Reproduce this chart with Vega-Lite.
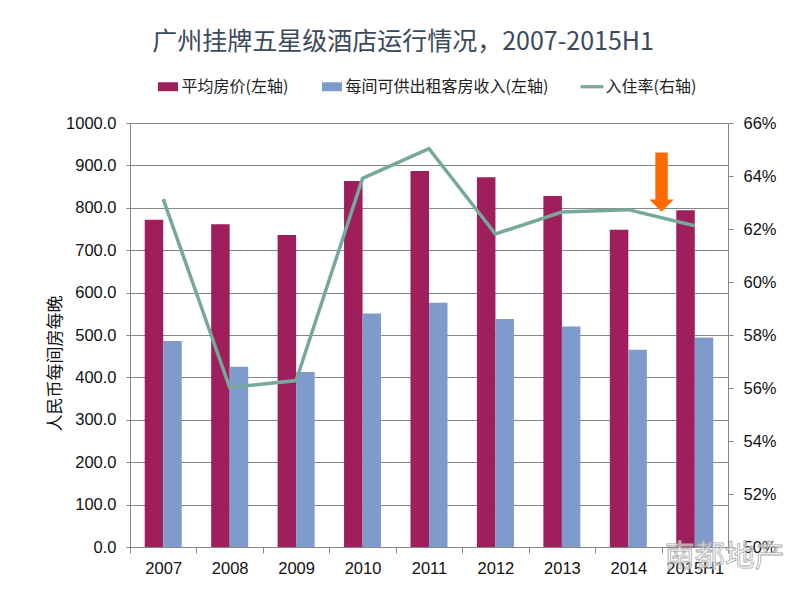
{
  "$schema": "https://vega.github.io/schema/vega-lite/v6.json",
  "description": "广州挂牌五星级酒店运行情况，2007-2015H1",
  "width": 598,
  "height": 424,
  "autosize": {"type": "none"},
  "padding": {"left": 130, "top": 123, "right": 67, "bottom": 53},
  "background": "#ffffff",
  "title": {
    "text": "广州挂牌五星级酒店运行情况，2007-2015H1",
    "font": "Noto Sans CJK SC",
    "fontSize": 25,
    "fontWeight": "normal",
    "color": "#3b4a5a",
    "anchor": "middle",
    "dx": -26,
    "offset": 20
  },
  "datasets": {
    "bars": [
      {"year": "2007", "series": "平均房价(左轴)", "value": 772},
      {"year": "2007", "series": "每间可供出租客房收入(左轴)", "value": 486},
      {"year": "2008", "series": "平均房价(左轴)", "value": 761},
      {"year": "2008", "series": "每间可供出租客房收入(左轴)", "value": 425},
      {"year": "2009", "series": "平均房价(左轴)", "value": 736},
      {"year": "2009", "series": "每间可供出租客房收入(左轴)", "value": 413},
      {"year": "2010", "series": "平均房价(左轴)", "value": 863},
      {"year": "2010", "series": "每间可供出租客房收入(左轴)", "value": 551},
      {"year": "2011", "series": "平均房价(左轴)", "value": 887},
      {"year": "2011", "series": "每间可供出租客房收入(左轴)", "value": 576},
      {"year": "2012", "series": "平均房价(左轴)", "value": 872},
      {"year": "2012", "series": "每间可供出租客房收入(左轴)", "value": 538},
      {"year": "2013", "series": "平均房价(左轴)", "value": 828},
      {"year": "2013", "series": "每间可供出租客房收入(左轴)", "value": 520},
      {"year": "2014", "series": "平均房价(左轴)", "value": 748},
      {"year": "2014", "series": "每间可供出租客房收入(左轴)", "value": 465},
      {"year": "2015H1", "series": "平均房价(左轴)", "value": 794},
      {"year": "2015H1", "series": "每间可供出租客房收入(左轴)", "value": 494}
    ],
    "occupancy": [
      {"year": "2007", "rate": 0.6313},
      {"year": "2008", "rate": 0.5602},
      {"year": "2009", "rate": 0.5628},
      {"year": "2010", "rate": 0.6391},
      {"year": "2011", "rate": 0.6503},
      {"year": "2012", "rate": 0.6181},
      {"year": "2013", "rate": 0.6264},
      {"year": "2014", "rate": 0.6273},
      {"year": "2015H1", "rate": 0.6212}
    ],
    "marker": [
      {"year": "2015H1", "rate": 0.6377}
    ],
    "watermark": [
      {"year": "2015H1", "rate": 0.5, "label": "南都地产"}
    ]
  },
  "encoding": {
    "x": {
      "field": "year",
      "type": "nominal",
      "sort": ["2007", "2008", "2009", "2010", "2011", "2012", "2013", "2014", "2015H1"],
      "scale": {"paddingInner": 0, "paddingOuter": 0},
      "axis": {
        "title": null,
        "labelAngle": 0,
        "tickBand": "extent",
        "tickSize": 6,
        "labelPadding": 7,
        "labelFont": "Liberation Sans",
        "labelFontSize": 16.5,
        "labelColor": "#111111",
        "domainColor": "#878787",
        "tickColor": "#878787"
      }
    }
  },
  "layer": [
    {
      "data": {"name": "bars"},
      "mark": {"type": "bar"},
      "encoding": {
        "xOffset": {
          "field": "series",
          "type": "nominal",
          "sort": ["平均房价(左轴)", "每间可供出租客房收入(左轴)"],
          "scale": {"paddingInner": 0, "paddingOuter": 0.795}
        },
        "y": {
          "field": "value",
          "type": "quantitative",
          "scale": {"domain": [0, 1000], "nice": false},
          "axis": {
            "title": "人民币每间房每晚",
            "titleFont": "Noto Sans CJK SC",
            "titleFontSize": 17,
            "titleFontWeight": "normal",
            "titleColor": "#111111",
            "titleX": -66,
            "titleY": 240,
            "values": [0, 100, 200, 300, 400, 500, 600, 700, 800, 900, 1000],
            "format": ".1f",
            "tickSize": 4,
            "labelPadding": 10,
            "labelFont": "Liberation Sans",
            "labelFontSize": 16.5,
            "labelColor": "#111111",
            "grid": true,
            "gridColor": "#878787",
            "domainColor": "#878787",
            "tickColor": "#878787"
          }
        },
        "color": {
          "field": "series",
          "type": "nominal",
          "scale": {
            "domain": ["平均房价(左轴)", "每间可供出租客房收入(左轴)", "入住率(右轴)"],
            "range": ["#9e1f5c", "#7f9bcb", "#76a99c"]
          },
          "legend": {
            "title": null,
            "orient": "none",
            "direction": "horizontal",
            "legendX": 26.5,
            "legendY": -48,
            "columnPadding": 32,
            "symbolSize": 529,
            "symbolOpacity": 1,
            "labelOffset": 2,
            "labelLimit": 400,
            "labelFont": "Noto Sans CJK SC",
            "labelFontSize": 16,
            "labelColor": "#222222",
            "encode": {
              "symbols": {
                "update": {
                  "shape": {"signal": "datum.value === '入住率(右轴)' ? 'M-1,-0.14L1,-0.14L1,0.14L-1,0.14Z' : 'M-0.87,-0.39L0.87,-0.39L0.87,0.39L-0.87,0.39Z'"},
                  "strokeWidth": {"value": 0}
                }
              }
            }
          }
        }
      }
    },
    {
      "layer": [
        {
          "data": {"name": "occupancy"},
          "mark": {"type": "line", "color": "#76a99c", "strokeWidth": 3.5},
          "encoding": {
            "y": {
              "field": "rate",
              "type": "quantitative",
              "scale": {"domain": [0.5, 0.66], "nice": false, "zero": false},
              "axis": {
                "orient": "right",
                "title": null,
                "values": [0.5, 0.52, 0.54, 0.56, 0.58, 0.6, 0.62, 0.64, 0.66],
                "format": ".0%",
                "grid": false,
                "tickSize": 5,
                "labelPadding": 10,
                "labelFont": "Liberation Sans",
                "labelFontSize": 16.5,
                "labelColor": "#111111",
                "domainColor": "#878787",
                "tickColor": "#878787"
              }
            }
          }
        },
        {
          "data": {"name": "marker"},
          "mark": {
            "type": "point",
            "shape": "M-0.21,-1L0.21,-1L0.21,0.59L0.41,0.59L0,1L-0.41,0.59L-0.21,0.59Z",
            "size": 3516,
            "filled": true,
            "color": "#ff6a00",
            "opacity": 1
          },
          "encoding": {
            "x": {"field": "year", "type": "nominal", "bandPosition": 0},
            "y": {"field": "rate", "type": "quantitative"}
          }
        },
        {
          "data": {"name": "watermark"},
          "mark": {
            "type": "text",
            "font": "Noto Sans CJK SC",
            "fontSize": 30,
            "fill": "#ffffff",
            "fillOpacity": 0.6,
            "stroke": "#a8a8a8",
            "strokeWidth": 0.8,
            "dx": 30,
            "dy": 10
          },
          "encoding": {
            "y": {"field": "rate", "type": "quantitative"},
            "text": {"field": "label"}
          }
        }
      ]
    }
  ],
  "resolve": {"scale": {"y": "independent"}},
  "config": {
    "view": {"stroke": null},
    "axis": {"domainWidth": 1, "tickWidth": 1, "gridWidth": 1}
  }
}
